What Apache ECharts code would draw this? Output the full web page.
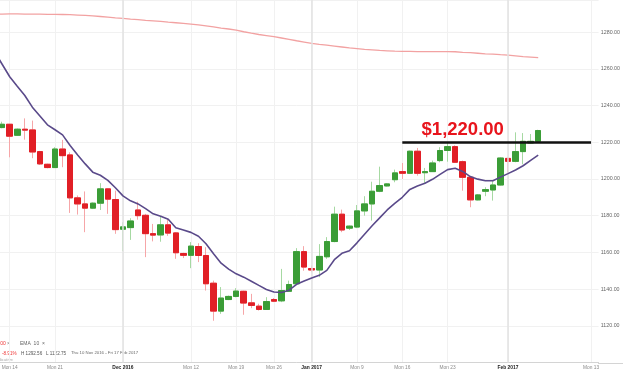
<!DOCTYPE html>
<html><head><meta charset="utf-8">
<script src="https://cdn.jsdelivr.net/npm/echarts@6/dist/echarts.min.js"></script>
<style>html,body{margin:0;padding:0;background:#fff;overflow:hidden;width:623px;height:370px;position:relative}
#c{position:absolute;left:-6px;top:0;width:629px;height:370px}</style>
</head><body><div id="c"></div>
<script>
// Trading-day categories (Sun–Fri sessions), then calendar days of empty future space
const dates = ['2016-11-11','2016-11-13','2016-11-14','2016-11-15','2016-11-16','2016-11-17','2016-11-18','2016-11-20','2016-11-21','2016-11-22','2016-11-23','2016-11-24','2016-11-25','2016-11-27','2016-11-28','2016-11-29','2016-11-30','2016-12-01','2016-12-02','2016-12-04','2016-12-05','2016-12-06','2016-12-07','2016-12-08','2016-12-09','2016-12-11','2016-12-12','2016-12-13','2016-12-14','2016-12-15','2016-12-16','2016-12-18','2016-12-19','2016-12-20','2016-12-21','2016-12-22','2016-12-23','2016-12-26','2016-12-27','2016-12-28','2016-12-29','2016-12-30','2017-01-02','2017-01-03','2017-01-04','2017-01-05','2017-01-06','2017-01-08','2017-01-09','2017-01-10','2017-01-11','2017-01-12','2017-01-13','2017-01-15','2017-01-16','2017-01-17','2017-01-18','2017-01-19','2017-01-20','2017-01-22','2017-01-23','2017-01-24','2017-01-25','2017-01-26','2017-01-27','2017-01-29','2017-01-30','2017-01-31','2017-02-01','2017-02-02','2017-02-03','2017-02-05','2017-02-06','2017-02-07','2017-02-08','2017-02-09','2017-02-10','2017-02-11','2017-02-12','2017-02-13','2017-02-14'];

// [open, close, low, high]
const ohlc = [
[1266,1225,1220,1268],[1228.0,1229.8,1227.6,1231.2],[1229.8,1223.3,1211.8,1230.0],[1223.8,1227.1,1223.4,1227.5],
[1227.1,1226.6,1221.4,1233.0],[1226.7,1214.7,1211.3,1231.8],[1214.9,1208.2,1207.6,1215.3],[1208.0,1206.2,1205.8,1208.3],
[1206.2,1216.3,1206.0,1217.3],[1216.3,1212.7,1206.4,1221.3],[1213.1,1189.7,1181.5,1214.5],[1189.7,1186.4,1180.6,1191.0],
[1186.4,1184.1,1171.0,1193.2],[1184.1,1186.8,1183.6,1187.2],[1186.8,1194.6,1183.1,1197.7],[1194.6,1189.0,1181.0,1194.9],
[1188.8,1172.4,1170.1,1193.6],[1172.6,1173.9,1160.7,1176.4],[1173.5,1177.1,1166.8,1178.6],[1183.1,1180.0,1177.8,1187.6],
[1180.2,1170.2,1157.4,1181.0],[1170.2,1169.4,1166.0,1175.5],[1169.5,1175.0,1165.8,1179.7],[1175.0,1170.5,1169.0,1178.3],
[1170.6,1159.8,1156.5,1171.1],[1159.4,1158.4,1156.9,1159.8],[1158.4,1163.4,1151.4,1165.6],[1163.2,1158.3,1154.7,1165.0],
[1158.3,1142.9,1139.2,1162.8],[1143.2,1128.0,1122.75,1144.6],[1128.0,1135.1,1126.5,1141.1],[1134.3,1136.0,1134.0,1136.5],
[1136.0,1138.9,1135.5,1140.5],[1138.8,1132.4,1126.0,1139.1],[1132.5,1131.1,1129.6,1137.4],[1130.7,1128.9,1128.3,1132.0],
[1128.9,1133.2,1128.7,1135.6],[1134.3,1133.4,1132.9,1135.1],[1133.6,1139.2,1132.9,1151.0],[1138.8,1142.5,1138.4,1144.6],
[1142.9,1160.4,1142.3,1162.3],[1160.4,1152.0,1150.0,1163.4],[1151.2,1150.4,1149.2,1152.8],[1150.4,1157.8,1146.5,1164.5],
[1157.6,1165.9,1156.5,1168.3],[1165.9,1180.8,1165.5,1184.9],[1180.8,1172.2,1171.0,1183.3],[1173.2,1174.3,1172.2,1174.6],
[1173.8,1182.6,1173.2,1185.8],[1182.6,1186.4,1180.0,1190.6],[1186.4,1193.3,1177.3,1198.5],[1193.3,1196.4,1192.8,1206.7],
[1196.2,1197.3,1195.9,1197.7],[1199.6,1203.3,1198.2,1205.1],[1204.0,1203.1,1200.0,1208.7],[1203.1,1215.1,1202.7,1215.5],
[1215.1,1203.1,1201.8,1216.9],[1203.4,1204.0,1197.3,1206.0],[1204.0,1208.7,1203.9,1210.0],[1210.0,1215.5,1209.1,1217.3],
[1215.5,1217.6,1209.4,1220.0],[1217.6,1209.1,1208.7,1218.3],[1209.4,1200.9,1193.6,1210.0],[1200.9,1188.6,1184.6,1201.3],
[1188.6,1191.3,1188.3,1191.8],[1193.3,1194.2,1190.6,1195.5],[1194.0,1196.7,1188.2,1199.1],[1196.7,1211.4,1196.4,1211.8],
[1211.2,1209.6,1203.3,1211.7],[1209.6,1214.9,1209.1,1225.4],[1214.9,1220.5,1208.0,1225.0],[1219.6,1220.5,1219.3,1224.5],
[1220.5,1226.39,1220.4,1226.8]
];

// EMA 10
const ema10 = [1269.3,1262.5,1255.7,1250.5,1245.5,1239.1,1234.3,1229.5,1226.8,1224.0,1218.2,1213.1,1208.2,1203.7,1202.0,1199.2,
1195.2,1190.8,1188.1,1186.4,1183.8,1181.0,1179.7,1178.0,1173.4,1172.2,1170.9,1168.8,1164.7,1159.2,1154.1,1150.9,1148.3,1146.5,
1144.3,1142.0,1139.8,1138.4,1138.1,1139.4,1142.6,1144.4,1146.0,1147.5,1150.2,1156.0,1159.5,1160.9,1165.2,1169.9,1174.5,1178.8,
1183.1,1186.7,1190.0,1194.3,1196.2,1197.7,1199.8,1202.5,1205.1,1205.8,1204.1,1201.3,1199.9,1199.0,1199.0,1201.0,1202.9,1204.9,
1207.2,1210.1,1213.0];

// Slow moving average (pale red)
const sma200 = [1289.8,1289.8,1289.9,1289.9,1289.8,1289.8,1289.8,1289.7,1289.7,1289.6,1289.5,1289.3,1289.1,1288.8,1288.5,1288.2,
1287.8,1287.5,1287.1,1286.8,1286.4,1286.1,1285.8,1285.4,1285.1,1284.8,1284.4,1284.0,1283.4,1282.8,1282.2,1281.7,1281.1,1280.2,
1279.4,1278.7,1278.1,1277.5,1276.8,1276.1,1275.3,1274.6,1273.9,1273.3,1272.9,1272.4,1271.9,1271.4,1271.0,1270.6,1270.3,1270.0,
1269.8,1269.6,1269.5,1269.5,1269.4,1269.4,1269.4,1269.4,1269.4,1269.3,1269.0,1268.8,1268.5,1268.2,1268.0,1267.7,1267.5,1267.1,
1266.7,1266.4,1266.1];

// x tick labels: [category, text, isMonth]
const tickLabels = [['2016-11-14','Mon 14',0],['2016-11-21','Mon 21',0],['2016-12-01','Dec 2016',1],['2016-12-12','Mon 12',0],
['2016-12-19','Mon 19',0],['2016-12-26','Mon 26',0],['2017-01-02','Jan 2017',1],['2017-01-09','Mon 9',0],['2017-01-16','Mon 16',0],
['2017-01-23','Mon 23',0],['2017-02-01','Feb 2017',1],['2017-02-13','Mon 13',0]];

const yTicks = {min:1100, max:1297.5, step:20};
const level = 1220;
const levelFrom = '2017-01-16', levelTo = '2017-02-13', levelLabelAt = '2017-01-25';
const lastPrice = 1226.39;

const tickMap = {};
tickLabels.forEach(t => tickMap[t[0]] = t);
const monthLines = tickLabels.filter(t => t[2]).map(t => ({xAxis: t[0]}));

const wickData = ohlc.map(r => [r[0], r[1], r[2], r[3]]);
const bodyData = ohlc.map(r => [r[0], r[1], Math.min(r[0], r[1]), Math.max(r[0], r[1])]);

const FONT = 'Liberation Sans';
const OX = 6; // container is shifted 6px left of the page
const chart = echarts.init(document.getElementById('c'), null, {renderer: 'canvas'});
chart.setOption({
  animation: false,
  backgroundColor: '#ffffff',
  textStyle: {fontFamily: FONT},
  grid: {left: 0.6, right: 24.4, top: 0, bottom: 7, containLabel: false},
  xAxis: {
    type: 'category', data: dates, boundaryGap: false,
    axisLine: {show: true, lineStyle: {color: '#d4d4d4', width: 1}},
    axisTick: {show: false},
    axisLabel: {
      interval: (i, v) => !!tickMap[v], margin: 2.5, fontSize: 4.8, color: '#8a8a8a', fontFamily: FONT,
      formatter: v => { const t = tickMap[v]; if (!t) return ''; return t[2] ? '{b|' + t[1] + '}' : t[1]; },
      rich: {b: {fontWeight: 'bold', color: '#222', fontSize: 4.9, fontFamily: FONT}}
    },
    splitLine: {show: true, interval: (i, v) => !!tickMap[v], lineStyle: {color: '#f1f1f1', width: 1}}
  },
  yAxis: {
    type: 'value', position: 'right', scale: true,
    min: yTicks.min, max: yTicks.max, interval: yTicks.step,
    axisLine: {show: false}, axisTick: {show: false},
    axisLabel: {margin: 2.2, fontSize: 5.3, color: '#666', fontFamily: FONT, showMaxLabel: false,
      formatter: v => (v > yTicks.min && Math.abs(v % 20) < 1e-6) ? v.toFixed(2) : ''},
    splitLine: {show: true, lineStyle: {color: '#f1f1f1', width: 1}}
  },
  series: [
    {
      type: 'line', data: sma200, showSymbol: false, silent: true,
      lineStyle: {color: '#f2a2a2', width: 1.3}, z: 2,
      markLine: {silent: true, symbol: 'none', label: {show: false},
        lineStyle: {color: '#e2e2e2', width: 1.5, type: 'solid'}, data: monthLines}
    },
    {
      type: 'candlestick', data: wickData, barWidth: 6, silent: true, z: 3,
      itemStyle: {color: '#a6d9a2', color0: '#f6a6a8', borderColor: '#a6d9a2', borderColor0: '#f6a6a8', borderWidth: 1}
    },
    {
      type: 'candlestick', data: bodyData, barWidth: 6, silent: true, z: 4,
      itemStyle: {color: '#3b9d37', color0: '#e11f26', borderColor: '#3b9d37', borderColor0: '#e11f26', borderWidth: 1},
      markLine: {
        silent: true, symbol: 'none', animation: false,
        data: [
          [{coord: [levelFrom, level], lineStyle: {color: '#111', width: 2.6, type: 'solid'}, label: {show: false}},
           {coord: [levelTo, level]}],
          {yAxis: lastPrice, lineStyle: {opacity: 0},
           label: {show: true, position: 'end', distance: 0, offset: [0, -7], formatter: '1226.39',
             backgroundColor: '#4a5c7a', color: '#fff', fontSize: 5.3, fontFamily: FONT, padding: [1.2, 3, 1, 3]}}
        ]
      },
      markPoint: {
        silent: true, symbol: 'circle', symbolSize: 0,
        data: [{coord: [levelLabelAt, level],
          label: {show: true, formatter: '$1,220.00', offset: [0, -12.5], color: '#e8141c',
            fontSize: 18.5, fontWeight: 'bold', fontFamily: FONT}}]
      }
    },
    {
      type: 'line', data: ema10, showSymbol: false, silent: true, z: 5,
      lineStyle: {color: '#5a4a8a', width: 1.6}
    }
  ],
  graphic: [
    {type: 'line', shape: {x1: 598 + OX, y1: 363.5, x2: 623 + OX, y2: 363.5}, style: {stroke: '#d4d4d4', lineWidth: 1}, silent: true},
    {type: 'text', x: 10 + OX, y: 341, style: {text: '{r|SMA 200} {g|×}', align: 'right', fontSize: 5, fontFamily: FONT,
      rich: {r: {fill: '#e33', fontSize: 5, fontFamily: FONT}, g: {fill: '#888', fontSize: 5, fontFamily: FONT}}}},
    {type: 'text', x: 20 + OX, y: 341, style: {text: 'EMA  10  ×', fill: '#666', fontSize: 5, fontFamily: FONT}},
    {type: 'text', x: 2 + OX, y: 351, style: {text: '-8.91%', fill: '#e33', fontSize: 4.6, fontFamily: FONT}},
    {type: 'text', x: 21 + OX, y: 351, style: {text: 'H 1292.56', fill: '#555', fontSize: 4.6, fontFamily: FONT}},
    {type: 'text', x: 46 + OX, y: 351, style: {text: 'L 1122.75', fill: '#555', fontSize: 4.6, fontFamily: FONT}},
    {type: 'text', x: 71 + OX, y: 351, style: {text: 'Thu 10 Nov 2016 - Fri 17 Feb 2017', fill: '#666', fontSize: 4.3, fontFamily: FONT}},
    {type: 'text', x: 13 + OX, y: 357.5, style: {text: 'Indicative', align: 'right', fill: '#aaa', fontSize: 4.3, fontFamily: FONT}}
  ]
});
</script>
</body></html>
